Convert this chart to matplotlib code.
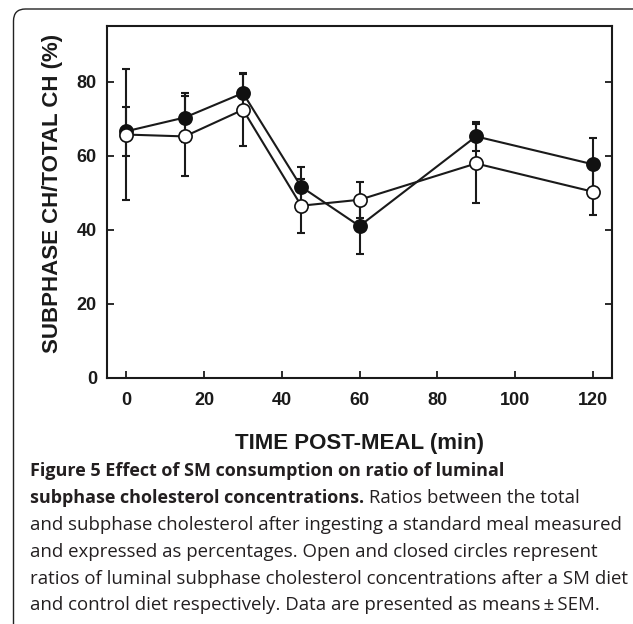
import matplotlib
matplotlib.use("Agg")
import matplotlib.pyplot as plt
from matplotlib.patches import FancyBboxPatch
import numpy as np

# ---- data ----
time_min = [0, 15, 30, 45, 60, 90, 120]
control_mean = [66.6, 70.3, 76.9, 51.6, 41.0, 65.2, 57.7]   # closed circles
control_sem = [6.6, 6.6, 5.2, 5.3, 7.4, 3.9, 7.1]
sm_mean = [65.7, 65.2, 72.4, 46.5, 48.1, 57.9, 50.3]        # open circles
sm_sem = [17.7, 10.8, 9.9, 7.3, 4.8, 10.6, 6.4]

x_ticks = [0, 20, 40, 60, 80, 100, 120]
y_ticks = [0, 20, 40, 60, 80]

W, H = 633, 624
fig = plt.figure(figsize=(W / 100, H / 100), dpi=100)
ax = fig.add_axes([107 / W, 1 - 378 / H, (612 - 107) / W, (378 - 26) / H])

lw = 1.5
ax.errorbar(time_min, control_mean, yerr=control_sem, fmt='none', ecolor='#1a1a1a',
            elinewidth=lw, capsize=3, capthick=lw, zorder=2)
ax.errorbar(time_min, sm_mean, yerr=sm_sem, fmt='none', ecolor='#1a1a1a',
            elinewidth=lw, capsize=3, capthick=lw, zorder=2)
ax.plot(time_min, control_mean, '-', color='#1a1a1a', lw=lw, zorder=3)
ax.plot(time_min, sm_mean, '-', color='#1a1a1a', lw=lw, zorder=3)
ax.plot(time_min, control_mean, 'o', ms=9.5, mfc='#111111', mec='#111111', mew=1.2, zorder=4)
ax.plot(time_min, sm_mean, 'o', ms=9.5, mfc='white', mec='#111111', mew=1.2, zorder=5)

ax.set_xlim(-5, 125)
ax.set_ylim(0, 95)
ax.set_xticks(x_ticks)
ax.set_yticks(y_ticks)
for s in ax.spines.values():
    s.set_linewidth(1.5)
    s.set_color('#1a1a1a')
ax.tick_params(axis='both', direction='in', length=5, width=1.3, color='#1a1a1a')
ax.tick_params(axis='y', right=True, pad=7.2)
ax.tick_params(axis='x', pad=9.8)
for lab in ax.get_xticklabels() + ax.get_yticklabels():
    lab.set_fontfamily('Liberation Sans')
    lab.set_fontweight('bold')
    lab.set_fontsize(13)
    lab.set_color('#1a1a1a')

ax.set_xlabel('TIME POST-MEAL (min)', fontfamily='Liberation Sans', fontweight='bold',
              fontsize=16, color='#1a1a1a', va='top')
ax.xaxis.set_label_coords(0.5, (378 - 433) / 352)
ax.set_ylabel('SUBPHASE CH/TOTAL CH (%)', fontfamily='Liberation Sans', fontweight='bold',
              fontsize=16, color='#1a1a1a')
ax.yaxis.set_label_coords((63 - 107) / 505, (378 - 193) / 352)

# ---- frame ----
frame = FancyBboxPatch((13.5, -30), 640, (H - 9) + 30, boxstyle='round,pad=0,rounding_size=12',
                       transform=None, fill=False, edgecolor='#222222', linewidth=1.0)
fig.patches.append(frame)

# ---- caption ----
cap_fs = 13.4
bold_fs = 13.0
cap_font = 'Open Sans'
cap_color = '#231f20'
x0 = 30 / W
lines = [
    [("Figure 5 Effect of SM consumption on ratio of luminal", 'bold')],
    [("subphase cholesterol concentrations.", 'bold'), (" Ratios between the total", 'normal')],
    [("and subphase cholesterol after ingesting a standard meal measured", 'normal')],
    [("and expressed as percentages. Open and closed circles represent", 'normal')],
    [("ratios of luminal subphase cholesterol concentrations after a SM diet", 'normal')],
    [("and control diet respectively. Data are presented as means\u2009\u00b1\u2009SEM.", 'normal')],
]
fig.canvas.draw()
renderer = fig.canvas.get_renderer()
for i, parts in enumerate(lines):
    yb = 1 - (476.5 + 26.8 * i) / H
    x = x0
    for txt, wt in parts:
        t = fig.text(x, yb, txt, fontfamily=[cap_font, 'DejaVu Sans'], fontweight=wt,
                     fontsize=bold_fs if wt == 'bold' else cap_fs, color=cap_color,
                     va='baseline', ha='left')
        bb = t.get_window_extent(renderer)
        x = bb.x1 / W

fig.savefig('out.png', dpi=100)
